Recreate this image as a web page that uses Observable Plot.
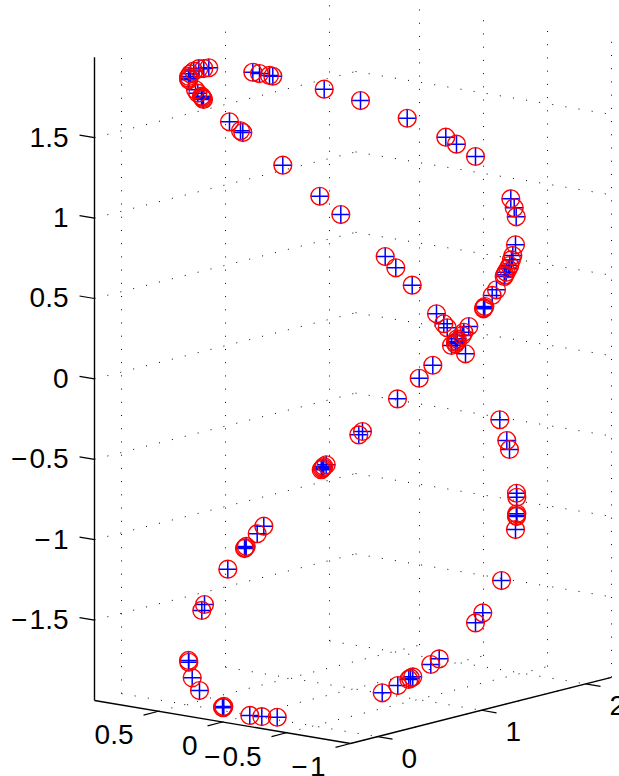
<!DOCTYPE html>
<html>
<head>
<meta charset="utf-8">
<style>html,body{margin:0;padding:0;background:#fff;overflow:hidden}</style>
<script src="https://cdn.jsdelivr.net/npm/d3@7"></script>
<script src="https://cdn.jsdelivr.net/npm/@observablehq/plot@0.6"></script>
</head>
<body>
<div id="chart"></div>
<script>
// Points: horizontal projected position and height on the vertical axis
const pointX = [208.3,203.3,198.3,193.3,190,188.3,188,188.3,195,197.3,201,201.7,202.3,203,252.3,259,269,272.3,323.7,229,240,242.3,282.3,319.3,340.3,360,406.7,445.3,456,475,510.3,513.7,515.7,515,512.3,511,509.3,507.7,505.7,504.3,503.7,496,491.7,484.3,483.3,483,384.7,395.3,411.7,436,443.3,446.7,468.3,463.3,461.7,456.7,456.7,455,455,451,465,432.3,418.7,397,362,358.3,499.3,506.3,509,325.7,323.3,322.7,321.7,320.7,516,516.3,516.3,516,516,515,501,482.3,475,438.7,430.3,412.3,410,408.3,397.3,381.7,263.3,256.7,245.7,244.7,244,227.3,204,201.3,188,188.3,191.7,199,223.3,222.7,222,249.3,261.3,276.7];
const pointZ = [1.935,1.930,1.929,1.914,1.897,1.881,1.870,1.860,1.798,1.777,1.758,1.752,1.744,1.738,1.907,1.899,1.887,1.882,1.802,1.599,1.543,1.532,1.329,1.136,1.022,1.731,1.621,1.503,1.460,1.383,1.120,1.064,1.008,0.834,0.767,0.741,0.705,0.685,0.664,0.647,0.637,0.554,0.519,0.450,0.442,0.436,0.761,0.691,0.583,0.405,0.343,0.318,0.326,0.290,0.270,0.249,0.233,0.228,0.218,0.208,0.156,0.085,0.004,-0.124,-0.327,-0.348,-0.254,-0.383,-0.439,-0.534,-0.545,-0.553,-0.559,-0.565,-0.711,-0.736,-0.839,-0.850,-0.856,-0.937,-1.254,-1.455,-1.517,-1.741,-1.776,-1.853,-1.861,-1.869,-1.907,-1.952,-0.916,-0.963,-1.042,-1.050,-1.055,-1.183,-1.403,-1.440,-1.751,-1.762,-1.859,-1.938,-2.037,-2.045,-2.042,-2.093,-2.100,-2.104];

// Axis ticks and limits of the 3-D box
const aTicks = [0.5, 0, -0.5, -1];
const bTicks = [0, 1, 2];
const zTicks = [-1.5, -1, -0.5, 0, 0.5, 1, 1.5];
const aLim = [-1, 1];
const bLim = [-0.26, 2.25];
const zLim = [-2, 2];

// Oblique view of the box, in the chart's x and z units
const view = (a, b, z) => ({
  x: 94 + 128 * (1 - a) + 104 * (b - bLim[0]),
  y: z + 0.1337 * (a - 1) + 0.164 * (b - bLim[0])
});
const seg = (p, q) => { const s = view(...p), t = view(...q); return {x1: s.x, y1: s.y, x2: t.x, y2: t.y}; };

const points = pointX.map((x, i) => ({x, z: pointZ[i]}));
const minus = (v) => String(v).replace("-", "\u2212\u200a");

const wallVertical = [
  ...bTicks.map(b => seg([aLim[1], b, zLim[0]], [aLim[1], b, zLim[1]])),
  ...aTicks.map(a => seg([a, bLim[1], zLim[0]], [a, bLim[1], zLim[1]]))
];
const wallHorizontal = [
  ...zTicks.map(z => seg([aLim[1], bLim[0], z], [aLim[1], bLim[1], z])),
  ...zTicks.map(z => seg([aLim[1], bLim[1], z], [aLim[0], bLim[1], z]))
];
const floorLines = [
  ...aTicks.map(a => seg([a, bLim[0], zLim[0]], [a, bLim[1], zLim[0]])),
  ...bTicks.map(b => seg([aLim[1], b, zLim[0]], [aLim[0], b, zLim[0]]))
];
const axisLines = [
  seg([aLim[1], bLim[0], zLim[0]], [aLim[1], bLim[0], zLim[1]]),
  seg([aLim[1], bLim[0], zLim[0]], [aLim[0], bLim[0], zLim[0]]),
  seg([aLim[0], bLim[0], zLim[0]], [aLim[0], bLim[1], zLim[0]])
];
const tickLen = 0.117, tickLenB = 0.144;
const tickLines = [
  ...zTicks.map(z => seg([aLim[1], bLim[0], z], [aLim[1] + tickLen, bLim[0], z])),
  ...aTicks.map(a => seg([a, bLim[0], zLim[0]], [a, bLim[0] - tickLenB, zLim[0]])),
  ...bTicks.map(b => seg([aLim[0], b, zLim[0]], [aLim[0] - tickLen, b, zLim[0]]))
];
const aLabels = aTicks.map(a => ({...view(a, bLim[0], zLim[0]), t: minus(a)}));
const bLabels = bTicks.map(b => ({...view(aLim[0], b, zLim[0]), t: minus(b)}));

const dots = {stroke: "#000", strokeWidth: 1};
const chart = Plot.plot({
  width: 619,
  height: 776,
  marginLeft: 94,
  marginRight: 0,
  marginTop: 0,
  marginBottom: 0,
  style: {fontFamily: "'Liberation Sans', Arial, sans-serif", background: "#fff", overflow: "visible"},
  x: {domain: [94, 619], axis: null},
  y: {domain: [-2.4726, 2.3532], axis: null},
  marks: [
    Plot.link(wallVertical, {x1: "x1", y1: "y1", x2: "x2", y2: "y2", ...dots, strokeDasharray: "1,12.22"}),
    Plot.link(wallHorizontal, {x1: "x1", y1: "y1", x2: "x2", y2: "y2", ...dots, strokeDasharray: "1,12.3"}),
    Plot.link(floorLines, {x1: "x1", y1: "y1", x2: "x2", y2: "y2", ...dots, strokeDasharray: "1,12.3"}),
    Plot.link(axisLines, {x1: "x1", y1: "y1", x2: "x2", y2: "y2", stroke: "#000", strokeWidth: 1.4}),
    Plot.link(tickLines, {x1: "x1", y1: "y1", x2: "x2", y2: "y2", stroke: "#000", strokeWidth: 1.2}),
    Plot.axisY({ticks: zTicks, tickSize: 0, tickPadding: 26, fontSize: 28, fill: "#000", label: null, tickFormat: minus}),
    Plot.text(aLabels, {x: "x", y: "y", text: "t", textAnchor: "end", dx: -25, dy: 24, fontSize: 28, fill: "#000"}),
    Plot.text(bLabels, {x: "x", y: "y", text: "t", textAnchor: "start", dx: 24, dy: 22, fontSize: 28, fill: "#000"}),
    Plot.dot(points, {x: "x", y: "z", symbol: "plus", r: 5.9, stroke: "#0000ff", strokeWidth: 1.5}),
    Plot.dot(points, {x: "x", y: "z", symbol: "circle", r: 8.9, stroke: "#ff0000", strokeWidth: 1.4, fill: "none"})
  ]
});
document.getElementById("chart").appendChild(chart);
</script>
</body>
</html>
